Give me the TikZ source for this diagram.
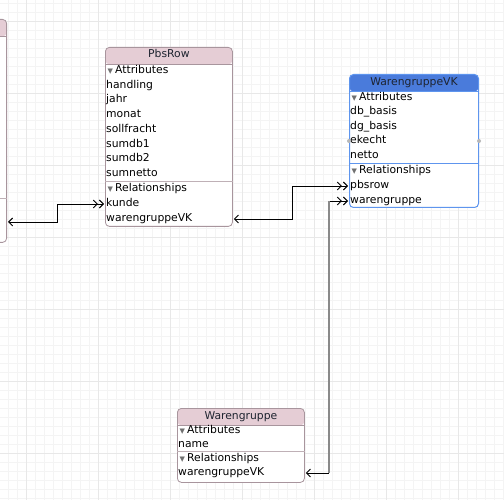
\documentclass[tikz,border=0pt]{standalone}
\usepackage{fontspec}
\setmainfont{DejaVu Sans}
\usepackage{xcolor}
\usepackage{tikz}
\usetikzlibrary{arrows.meta, arrows, positioning, calc}

\definecolor{hdrpink}{HTML}{E5CDD5}
\definecolor{boxline}{HTML}{A8959D}
\definecolor{sepline}{HTML}{BFB0B6}
\definecolor{hdrblue}{HTML}{4A7BDB}
\definecolor{blueline}{HTML}{5E95EE}
\definecolor{gridminor}{HTML}{F4F4F4}
\definecolor{gridmajor}{HTML}{E8E8E8}
\definecolor{trigrey}{HTML}{707070}
\definecolor{selgrey}{HTML}{8A8A8A}
\definecolor{handlegrey}{HTML}{B8B8B8}
\definecolor{titleink}{HTML}{1E2430}

\newcommand{\entfont}{\fontsize{10.8}{12}\selectfont}
\newcommand{\secmark}{\hspace{1.5pt}{\color{trigrey}\fontsize{7}{7}\selectfont ▼}\hspace{2pt}}

\tikzset{
  pinkentity/.style={draw=boxline, line width=0.8pt, rounded corners=4pt, fill=white, inner sep=0pt, anchor=north west,
    path picture={\fill[hdrpink] (path picture bounding box.north west) rectangle ([yshift=-17pt]path picture bounding box.north east);
      \draw[boxline, line width=0.8pt] ([yshift=-17pt]path picture bounding box.north west) -- ([yshift=-17pt]path picture bounding box.north east);}},
  blueentity/.style={draw=blueline, line width=1pt, rounded corners=4pt, fill=white, inner sep=0pt, anchor=north west,
    path picture={\fill[hdrblue] (path picture bounding box.north west) rectangle ([yshift=-17pt]path picture bounding box.north east);
      \draw[blueline, line width=0.8pt] ([yshift=-17pt]path picture bounding box.north west) -- ([yshift=-17pt]path picture bounding box.north east);}},
  title/.style={inner sep=0pt, text height=8pt, text depth=2.5pt, font=\entfont, text=titleink},
  attr/.style={anchor=west, inner sep=0pt, text height=8pt, text depth=2.5pt, font=\entfont, text=black},
  rel/.style={<->>, >={Straight Barb[length=4pt,width=8pt,sep=1pt]}, line width=0.9pt},
  selline/.style={draw=selgrey, line width=1.8pt}
}

\begin{document}
\begin{tikzpicture}[x=1pt, y=-1pt]

    % canvas and grid
    \fill[white] (0,0) rectangle (504,500);
    \useasboundingbox (0,0) rectangle (504,500);
    \foreach \gx in {8,17,...,503} \draw[gridminor, line width=0.5pt] (\gx,0) -- (\gx,500);
    \foreach \gy in {3,12,...,499} \draw[gridminor, line width=0.5pt] (0,\gy) -- (504,\gy);
    \foreach \gx in {26,98,...,503} \draw[gridmajor, line width=0.8pt] (\gx,0) -- (\gx,500);
    \foreach \gy in {21,93,...,499} \draw[gridmajor, line width=0.8pt] (0,\gy) -- (504,\gy);

    % left entity (cut off)
    \node[pinkentity, anchor=north east, minimum width=60pt, minimum height=223pt] (lft) at (7,19) {};
    \draw[sepline] (lft.west |- 0,198) -- (lft.east |- 0,198);

    % PbsRow
    \node[pinkentity, minimum width=127pt, minimum height=179pt] (pbsrow) at (105,47) {};
    \node[title] (pr-title) at (pbsrow.north |- 0,55) {PbsRow};
    \node[attr] (pr-attr) at (106,71) {\secmark Attributes};
    \node[attr] (pr-handling) at (106,85.5) {handling};
    \node[attr] (pr-jahr) at (106,100) {jahr};
    \node[attr] (pr-monat) at (106,115) {monat};
    \node[attr] (pr-soll) at (106,129.5) {sollfracht};
    \node[attr] (pr-db1) at (106,144.5) {sumdb1};
    \node[attr] (pr-db2) at (106,159) {sumdb2};
    \node[attr] (pr-netto) at (106,174) {sumnetto};
    \draw[sepline] (pbsrow.west |- 0,181.5) -- (pbsrow.east |- 0,181.5);
    \node[attr] (pr-rel) at (106,189) {\secmark Relationships};
    \node[attr] (pr-kunde) at (106,204) {kunde};
    \node[attr] (pr-wvk) at (106,219) {warengruppeVK};

    % WarengruppeVK (selected)
    \node[blueentity, minimum width=129pt, minimum height=133pt] (wvk) at (349,74) {};
    \node[title] (wv-title) at (wvk.north |- 0,83) {WarengruppeVK};
    \node[attr] (wv-attr) at (350,97.5) {\secmark Attributes};
    \node[attr] (wv-db) at (350,112) {db\_basis};
    \node[attr] (wv-dg) at (350,126.5) {dg\_basis};
    \node[attr] (wv-ekecht) at (350,141) {ekecht};
    \node[attr] (wv-netto) at (350,156) {netto};
    \draw[blueline, line width=0.8pt] (wvk.west |- 0,163.5) -- (wvk.east |- 0,163.5);
    \node[attr] (wv-rel) at (350,170.5) {\secmark Relationships};
    \node[attr] (wv-pbsrow) at (350,186) {pbsrow};
    \node[attr] (wv-wg) at (350,201) {warengruppe};
    \fill[handlegrey] (wvk.west |- wv-ekecht) circle (2pt);
    \fill[handlegrey] (wvk.east |- wv-ekecht) circle (2pt);

    % Warengruppe
    \node[pinkentity, minimum width=127pt, minimum height=74pt] (wg) at (177,408) {};
    \node[title] (wg-title) at (wg.north |- 0,416.5) {Warengruppe};
    \node[attr] (wg-attr) at (178,431) {\secmark Attributes};
    \node[attr] (wg-name) at (178,444.5) {name};
    \draw[sepline] (wg.west |- 0,451.5) -- (wg.east |- 0,451.5);
    \node[attr] (wg-rel) at (178,458.5) {\secmark Relationships};
    \node[attr] (wg-wvk) at (178,473) {warengruppeVK};

    % relationships
    \draw[rel] (lft.east |- 0,222) -- ++(50,0) |- (pbsrow.west |- pr-kunde);
    \draw[rel] (pbsrow.east |- pr-wvk) -- ++(60,0) |- (wvk.west |- wv-pbsrow);
    \draw[rel] (wg.east |- wg-wvk) -- ++(24,0) coordinate (wg-bend) |- (wvk.west |- wv-wg);
    \draw[selline] (wg-bend) -- (wg-bend |- wv-wg);

\end{tikzpicture}
\end{document}
